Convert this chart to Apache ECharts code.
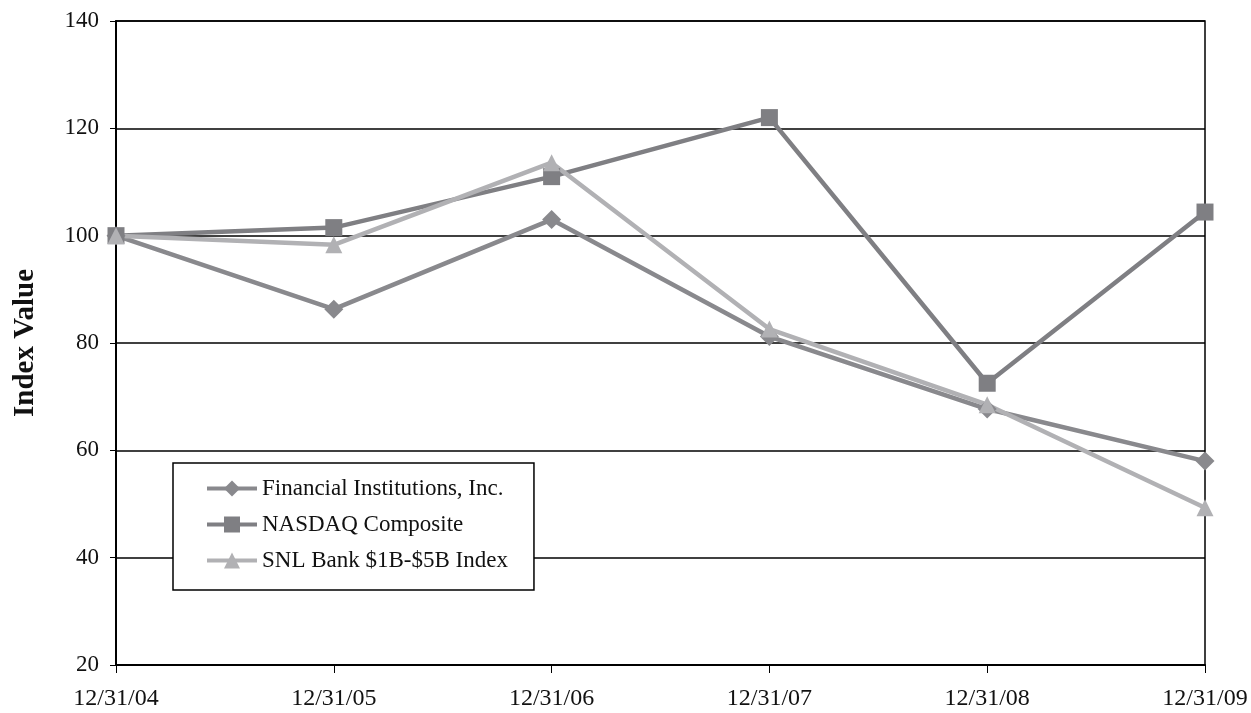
<!DOCTYPE html>
<html>
<head>
<meta charset="utf-8">
<script src="https://cdn.jsdelivr.net/npm/echarts@6/dist/echarts.min.js"></script>
<style>html,body{margin:0;padding:0;background:#fff;}#c{width:1251px;height:713px;}</style>
</head>
<body>
<div id="c"></div>
<script>
const categories = ['12/31/04','12/31/05','12/31/06','12/31/07','12/31/08','12/31/09'];
const financialInstitutions = [100, 86.3, 103.0, 81.2, 67.7, 58.0];
const nasdaqComposite = [100, 101.5, 111.0, 122.0, 72.5, 104.4];
const snlBank = [100, 98.3, 113.6, 82.6, 68.5, 49.3];
const seriesNames = ['Financial Institutions, Inc.', 'NASDAQ Composite', 'SNL Bank $1B-$5B Index'];
const yTicks = { min: 20, max: 140, interval: 20 };

const font = 'Liberation Serif';
const chart = echarts.init(document.getElementById('c'));
function mk(name, data, color, symbol, size) {
  return {
    name, type: 'line', data, symbol, symbolSize: size,
    lineStyle: { color, width: 4.5 }, itemStyle: { color },
    emphasis: { disabled: true }, animation: false
  };
}
chart.setOption({
  animation: false,
  backgroundColor: '#fff',
  grid: { left: 116, right: 46, top: 21, bottom: 48, show: true, borderColor: '#000', borderWidth: 1.5, backgroundColor: 'transparent' },
  legend: {
    orient: 'vertical', left: 173, top: 463,
    padding: [14, 26, 18, 32], itemGap: 13, itemWidth: 50, itemHeight: 20,
    backgroundColor: '#fff', borderColor: '#000', borderWidth: 1.5,
    lineStyle: { width: 4 },
    textStyle: { fontFamily: font, fontSize: 23, color: '#111' },
    data: seriesNames
  },
  xAxis: {
    type: 'category', data: categories, boundaryGap: false,
    axisLine: { lineStyle: { color: '#000', width: 2 } },
    axisTick: { show: true, length: 8, lineStyle: { color: '#000', width: 1 } },
    axisLabel: { fontFamily: font, fontSize: 24, color: '#111', margin: 22 },
    splitLine: { show: false }
  },
  yAxis: {
    type: 'value', min: yTicks.min, max: yTicks.max, interval: yTicks.interval,
    name: 'Index Value', nameLocation: 'middle', nameGap: 76, nameRotate: 90,
    nameTextStyle: { fontFamily: font, fontSize: 29, fontWeight: 'bold', color: '#111' },
    axisLine: { show: true, lineStyle: { color: '#000', width: 2 } },
    axisTick: { show: true, length: 6, lineStyle: { color: '#000', width: 1 } },
    axisLabel: { fontFamily: font, fontSize: 23, color: '#111', margin: 17 },
    splitLine: { show: true, lineStyle: { color: '#000', width: 1.5 } }
  },
  series: [
    mk(seriesNames[0], financialInstitutions, '#89898d', 'diamond', 19),
    mk(seriesNames[1], nasdaqComposite, '#7f7f83', 'rect', 17),
    mk(seriesNames[2], snlBank, '#b1b1b4', 'triangle', 17)
  ]
});
</script>
</body>
</html>
